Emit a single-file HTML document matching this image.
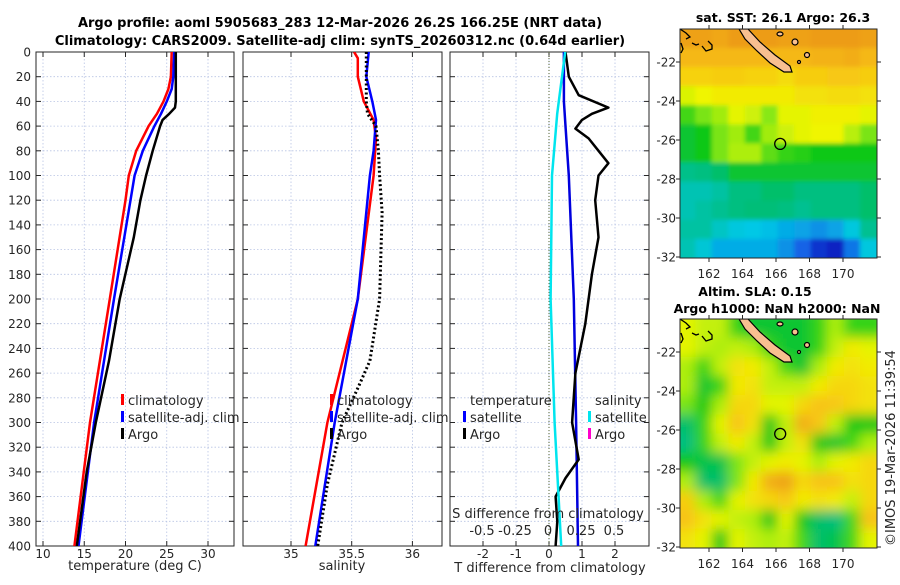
<!DOCTYPE html>
<html><head><meta charset="utf-8"><style>
body{margin:0;background:#fff;}
svg{font-family:"DejaVu Sans","Liberation Sans",sans-serif;}
</style></head><body>
<svg id="fig" width="900" height="580" viewBox="0 0 900 580" xmlns="http://www.w3.org/2000/svg">
<defs>
<clipPath id="c1"><rect x="36" y="52" width="198" height="494"/></clipPath>
<clipPath id="c2"><rect x="243" y="52" width="199" height="494"/></clipPath>
<clipPath id="c3"><rect x="450" y="52" width="199" height="494"/></clipPath>
<clipPath id="cm1"><rect x="680" y="29" width="197" height="229"/></clipPath>
<clipPath id="cm2"><rect x="680" y="319" width="197" height="229"/></clipPath>
<filter id="bl" x="-5%" y="-5%" width="110%" height="110%"><feGaussianBlur stdDeviation="6"/></filter>
<filter id="bl2" x="-5%" y="-5%" width="110%" height="110%"><feGaussianBlur stdDeviation="2"/></filter>
</defs>
<text x="340" y="27" text-anchor="middle" font-weight="bold" font-size="13">Argo profile: aoml 5905683_283 12-Mar-2026 26.2S 166.25E (NRT data)</text>
<text x="340" y="45" text-anchor="middle" font-weight="bold" font-size="13">Climatology: CARS2009. Satellite-adj clim: synTS_20260312.nc (0.64d earlier)</text>
<g id="g"></g>
<text x="783" y="22" text-anchor="middle" font-weight="bold" font-size="12.5">sat. SST: 26.1 Argo: 26.3</text>
<text x="755" y="296" text-anchor="middle" font-weight="bold" font-size="12.5">Altim. SLA: 0.15</text>
<text x="777" y="313" text-anchor="middle" font-weight="bold" font-size="12.5">Argo h1000: NaN h2000: NaN</text>
<text transform="translate(895,546) rotate(-90)" font-size="13" fill="#262626">©IMOS 19-Mar-2026 11:39:54</text>
</svg>
<script>
// ---------- data ----------
const depthTicks=[0,20,40,60,80,100,120,140,160,180,200,220,240,260,280,300,320,340,360,380,400];
const tTicks=[10,15,20,25,30];
const sTicks=[35,35.5,36];
const dtTicks=[-2,-1,0,1,2];
const dsTicks=[-0.5,-0.25,0,0.25,0.5];
const dsTickLabels=["-0.5","-0.25","0","0.25","0.5"];
const climDepth=[0,20,30,40,50,60,80,100,120,200,300,400];
const climT=[25.6,25.5,25.2,24.6,23.8,22.8,21.3,20.4,20.0,18.1,15.7,13.8];
const satDepth=[0,20,30,40,50,60,80,100,120,200,300,400];
const satT=[25.9,25.8,25.6,25.0,24.3,23.5,22.1,21.1,20.6,18.6,16.2,14.3];
const argoDepth=[0,20,40,45,50,55,60,80,100,120,150,200,250,300,340,380,400];
const argoT=[26.1,26.1,26.1,26.0,25.3,24.5,24.2,23.3,22.5,21.8,21.0,19.3,18.0,16.4,15.3,14.5,14.1];
const climSDepth=[0,5,20,40,55,70,100,200,300,400];
const climS=[35.52,35.55,35.55,35.6,35.68,35.7,35.68,35.55,35.3,35.12];
const satSDepth=[0,20,40,55,80,100,200,300,400];
const satS=[35.64,35.62,35.67,35.7,35.68,35.65,35.55,35.36,35.2];
const argoSDepth=[0,40,50,60,80,100,130,200,250,270,300,350,400];
const argoS=[35.62,35.62,35.63,35.7,35.72,35.73,35.75,35.73,35.65,35.56,35.42,35.3,35.22];
const dTsatDepth=[0,40,60,100,200,300,400];
const dTsat=[0.45,0.45,0.5,0.6,0.75,0.82,0.88];
const dTargoDepth=[0,20,35,45,50,55,62,70,80,90,100,120,150,180,220,260,300,330,345,360,380,400];
const dTargo=[0.5,0.6,0.9,1.8,1.3,1.0,0.8,1.2,1.5,1.8,1.5,1.4,1.5,1.3,1.1,0.8,0.7,0.9,0.5,0.2,0.25,0.2];
const dSsatDepth=[0,50,100,200,300,400];
const dSsat=[0.13,0.07,0.03,0.02,0.05,0.1];
const lonTicks=[162,164,166,168,170];
const latTicks=[-22,-24,-26,-28,-30,-32];
const sstGrid=[
[0.86,0.86,0.85,0.87,0.87,0.87,0.86,0.86,0.87,0.87,0.87,0.86],
[0.82,0.82,0.82,0.82,0.82,0.82,0.82,0.82,0.83,0.83,0.84,0.82],
[0.77,0.77,0.78,0.78,0.77,0.77,0.75,0.78,0.78,0.79,0.79,0.78],
[0.68,0.7,0.72,0.72,0.72,0.72,0.72,0.74,0.74,0.75,0.75,0.74],
[0.56,0.6,0.63,0.69,0.67,0.61,0.69,0.69,0.71,0.71,0.71,0.69],
[0.5,0.52,0.6,0.63,0.56,0.63,0.67,0.69,0.7,0.7,0.65,0.6],
[0.5,0.52,0.6,0.64,0.64,0.58,0.55,0.54,0.52,0.52,0.52,0.52],
[0.43,0.44,0.46,0.5,0.5,0.5,0.5,0.5,0.5,0.5,0.5,0.5],
[0.38,0.38,0.4,0.44,0.44,0.46,0.46,0.44,0.44,0.44,0.44,0.46],
[0.38,0.4,0.42,0.44,0.45,0.45,0.44,0.42,0.44,0.44,0.44,0.46],
[0.4,0.4,0.36,0.33,0.32,0.31,0.29,0.28,0.26,0.28,0.33,0.42],
[0.38,0.34,0.29,0.29,0.29,0.29,0.26,0.21,0.16,0.14,0.23,0.33]];
const slaGrid=[
[0.69,0.66,0.66,0.55,0.5,0.5,0.5,0.5,0.55,0.64,0.55,0.55],
[0.69,0.66,0.64,0.66,0.64,0.55,0.5,0.5,0.55,0.66,0.72,0.69],
[0.64,0.55,0.66,0.74,0.72,0.66,0.56,0.5,0.64,0.72,0.74,0.72],
[0.64,0.5,0.55,0.72,0.74,0.66,0.66,0.66,0.72,0.76,0.76,0.74],
[0.6,0.52,0.64,0.76,0.76,0.69,0.69,0.76,0.8,0.79,0.76,0.74],
[0.46,0.55,0.69,0.8,0.74,0.52,0.66,0.84,0.79,0.66,0.52,0.52],
[0.44,0.55,0.66,0.72,0.66,0.52,0.66,0.74,0.52,0.5,0.56,0.64],
[0.52,0.48,0.48,0.6,0.66,0.69,0.72,0.69,0.64,0.69,0.72,0.76],
[0.64,0.46,0.46,0.6,0.72,0.84,0.86,0.76,0.8,0.8,0.74,0.76],
[0.78,0.64,0.56,0.69,0.74,0.76,0.79,0.72,0.74,0.72,0.66,0.76],
[0.8,0.74,0.69,0.66,0.64,0.52,0.69,0.52,0.46,0.44,0.56,0.8],
[0.74,0.69,0.52,0.69,0.66,0.64,0.66,0.56,0.46,0.48,0.56,0.69]];
const argoLon=166.25, argoLat=-26.2;

// ---------- helpers ----------
const NS="http://www.w3.org/2000/svg";
const G=document.getElementById('g');
function mk(tag,attrs,parent){const e=document.createElementNS(NS,tag);for(const k in attrs)e.setAttribute(k,attrs[k]);(parent||G).appendChild(e);return e;}
const Y0=52,Y1=546;
const yD=d=>Y0+(d/400)*(Y1-Y0);
const xT=t=>43+(t-10)*8.25;
const xS=s=>291+(s-35)*121.4;
const xDT=t=>549+t*33;
const xDS=s=>548+s*132;
const panels=[[36,234],[243,442],[450,649]];
const gridC="#b8c4e4";

function panelFrame(p,xt,xs,labels,name){
  const [x0,x1]=p;
  depthTicks.forEach(d=>{const l=mk('line',{x1:x0,x2:x1,y1:yD(d),y2:yD(d),stroke:gridC,'stroke-width':0.8,'stroke-dasharray':'1.5,2'});
    
    [[x0,x0+5],[x1-5,x1]].forEach(a=>{const t=mk('line',{x1:a[0],x2:a[1],y1:yD(d),y2:yD(d),stroke:'#262626','stroke-width':1});});
  });
  xt.forEach(v=>{const X=xs(v);const l=mk('line',{x1:X,x2:X,y1:Y0,y2:Y1,stroke:gridC,'stroke-width':0.8,'stroke-dasharray':'1.5,2'});
    
    [[Y0,Y0+5],[Y1-5,Y1]].forEach(a=>{const t=mk('line',{x1:X,x2:X,y1:a[0],y2:a[1],stroke:'#262626','stroke-width':1});});
    const tx=mk('text',{x:X,y:558,'text-anchor':'middle','font-size':12,fill:'#262626'});tx.textContent=String(v);
    
  });
  const r=mk('rect',{x:x0,y:Y0,width:x1-x0,height:Y1-Y0,fill:'none',stroke:'#262626','stroke-width':1});
  
}
function line(ds,vs,xs,color,w,clip,name,dash){
  const pts=ds.map((d,i)=>xs(vs[i]).toFixed(1)+','+yD(d).toFixed(1)).join(' ');
  const a={points:pts,fill:'none',stroke:color,'stroke-width':w,'stroke-linejoin':'round','clip-path':'url(#'+clip+')'};
  if(dash)a['stroke-dasharray']=dash;
  const p=mk('polyline',a);
  
}
function txt(x,y,s,size,anchor,name,extra){
  const a={x:x,y:y,'font-size':size,fill:'#262626','text-anchor':anchor||'start'};
  if(extra)Object.assign(a,extra);
  const t=mk('text',a);t.textContent=s;
  return t;
}
function legBar(x,y,color,name){const r=mk('rect',{x:x,y:y-11,width:3,height:11,fill:color});}

// ---------- panel 1 ----------
panelFrame(panels[0],tTicks,xT,true,'temp-panel');
depthTicks.forEach(d=>txt(31,yD(d)+4.5,String(d),12,'end','depth-tick-label'));
line(climDepth,climT,xT,'#ff0000',2.5,'c1','temp-climatology-line');
line(satDepth,satT,xT,'#0000ff',2.5,'c1','temp-satellite-line');
line(argoDepth,argoT,xT,'#000000',2.5,'c1','temp-argo-line');
txt(135,570,'temperature (deg C)',13,'middle','temp-x-axis-title');
legBar(121,405,'#ff0000','legend-climatology-marker');txt(128,405,'climatology',13,'start','legend-climatology');
legBar(121,422,'#0000ff','legend-satellite-marker');txt(128,422,'satellite-adj. clim',13,'start','legend-satellite-adj');
legBar(121,439,'#000','legend-argo-marker');txt(128,439,'Argo',13,'start','legend-argo');

// ---------- panel 2 ----------
panelFrame(panels[1],sTicks,xS,false,'sal-panel');
line(climSDepth,climS,xS,'#ff0000',2.5,'c2','sal-climatology-line');
line(satSDepth,satS,xS,'#0000ff',2.5,'c2','sal-satellite-line');
line(argoSDepth,argoS,xS,'#000000',3,'c2','sal-argo-line','2,2.5');
txt(342,570,'salinity',13,'middle','sal-x-axis-title');
legBar(330,405,'#ff0000','legend2-climatology-marker');txt(337,405,'climatology',13,'start','legend2-climatology');
legBar(330,422,'#0000ff','legend2-satellite-marker');txt(337,422,'satellite-adj. clim',13,'start','legend2-satellite-adj');
legBar(330,439,'#000','legend2-argo-marker');txt(337,439,'Argo',13,'start','legend2-argo');

// ---------- panel 3 ----------
panelFrame(panels[2],dtTicks,xDT,false,'diff-panel');
const zl=mk('line',{x1:xDT(0),x2:xDT(0),y1:Y0,y2:Y1,stroke:'#556633','stroke-width':1,'stroke-dasharray':'1,2'});

line(dTsatDepth,dTsat,xDT,'#0000dd',2.5,'c3','dT-satellite-line');
line(dTargoDepth,dTargo,xDT,'#000',2.5,'c3','dT-argo-line');
line(dSsatDepth,dSsat,xDS,'#00e5ee',2.5,'c3','dS-satellite-line');
txt(550,572,'T difference from climatology',13,'middle','dT-x-axis-title');
txt(548,518,'S difference from climatology',13,'middle','dS-axis-title');
dsTicks.forEach((v,i)=>txt(xDS(v),535,dsTickLabels[i],13,'middle','dS-tick-label'));
txt(470,405,'temperature',13,'start','legend3-temperature-header');
legBar(463,422,'#0000ff','legend3-t-satellite-marker');txt(470,422,'satellite',13,'start','legend3-t-satellite');
legBar(463,439,'#000','legend3-t-argo-marker');txt(470,439,'Argo',13,'start','legend3-t-argo');
txt(595,405,'salinity',13,'start','legend3-salinity-header');
legBar(588,422,'#00e5ee','legend3-s-satellite-marker');txt(595,422,'satellite',13,'start','legend3-s-satellite');
legBar(588,439,'#ff00cc','legend3-s-argo-marker');txt(595,439,'Argo',13,'start','legend3-s-argo');

// ---------- maps ----------
const MX0=680,MX1=877;
const xLon=l=>709+(l-162)*16.75;
function cmap(v){
  const stops=[[0.1,[0,0,170]],[0.2,[20,90,230]],[0.32,[0,200,230]],[0.45,[0,190,120]],[0.52,[10,200,20]],[0.62,[150,235,20]],[0.7,[240,245,0]],[0.8,[248,195,20]],[0.88,[235,150,20]],[1,[220,90,0]]];
  if(v<=stops[0][0])return 'rgb('+stops[0][1]+')';
  for(let i=1;i<stops.length;i++){if(v<=stops[i][0]){const a=stops[i-1],b=stops[i],f=(v-a[0])/(b[0]-a[0]);
    return 'rgb('+a[1].map((c,k)=>Math.round(c+(b[1][k]-c)*f)).join(',')+')';}}
  return 'rgb('+stops[stops.length-1][1]+')';
}
function map(grid,y0,clip,name,filt){
  const yLat=l=>y0+33+(-22-l)*19.5;
  const g=mk('g',{'clip-path':'url(#'+clip+')'});
  
  const inner=mk('g',{filter:'url(#'+filt+')'},g);
  const rows=grid.length,cols=grid[0].length;
  const lon0=160.2,lon1=172.0,lat0=-20.3,lat1=-32.05;
  const cw=(lon1-lon0)/cols, ch=(lat0-lat1)/rows;
  grid.forEach((row,r)=>row.forEach((v,c)=>{
    const x=xLon(lon0+c*cw), y=yLat(lat0-r*ch);
    const rc=mk('rect',{x:(x-(c==0?10:0)).toFixed(1),y:(y-(r==0?10:0)).toFixed(1),width:(xLon(lon0+(c+1)*cw)-x+1+(c==0?10:0)+(c==cols-1?10:0)).toFixed(1),height:(yLat(lat0-(r+1)*ch)-y+1+(r==0?10:0)+(r==rows-1?10:0)).toFixed(1),fill:cmap(v)},inner);
    
  }));
  const isl=mk('polygon',{points:[[739,0],[748,0],[760,13],[775,26],[790,37],[792,43],[784,43],[770,34],[757,22],[745,10]].map(p=>p[0]+','+(y0+p[1])).join(' '),fill:'#f8bf90',stroke:'#000','stroke-width':1.2},g);
  
  [[780,5,3,2],[795,13,3,3],[807,26,2.5,2.5],[799,33,1.5,1.5]].forEach(e=>{
    const el=mk('ellipse',{cx:e[0],cy:y0+e[1],rx:e[2],ry:e[3],fill:'#f8bf90',stroke:'#000','stroke-width':1.2},g);
    
  });
  [[[680,0],[686,4],[690,8],[686,10]],[[681,14],[683,20],[681,24]],[[692,14],[696,16],[699,15]],[[708,12],[712,16],[712,20],[706,22],[702,17]]].forEach(pl=>{
    const r=mk('polyline',{points:pl.map(p=>p[0]+','+(y0+p[1])).join(' '),fill:'none',stroke:'#000','stroke-width':1.3},g);
    
  });
  const ac=mk('circle',{cx:xLon(argoLon),cy:yLat(argoLat),r:5.5,fill:'none',stroke:'#000','stroke-width':1.3});
  
  const fr=mk('rect',{x:MX0,y:y0,width:MX1-MX0,height:229,fill:'none',stroke:'#262626','stroke-width':1});
  
  latTicks.forEach(l=>{const Y=yLat(l);
    const t=mk('line',{x1:MX1,x2:MX1+4,y1:Y,y2:Y,stroke:'#262626'});
    const t2=mk('line',{x1:MX0-4,x2:MX0,y1:Y,y2:Y,stroke:'#262626'});
    txt(676,Y+4.5,String(l),12,'end',name+'-lat-label');});
  lonTicks.forEach(l=>{const X=xLon(l);
    const t=mk('line',{x1:X,x2:X,y1:y0+229,y2:y0+233,stroke:'#262626'});
    const t2=mk('line',{x1:X,x2:X,y1:y0-4,y2:y0,stroke:'#262626'});
  });
}
map(sstGrid,29,'cm1','sst-map','bl2');
map(slaGrid,319,'cm2','sla-map','bl');
lonTicks.forEach(l=>{txt(xLon(l),278,String(l),12,'middle','sst-map-lon-label');txt(xLon(l),568,String(l),12,'middle','sla-map-lon-label');});
</script>
</body></html>
